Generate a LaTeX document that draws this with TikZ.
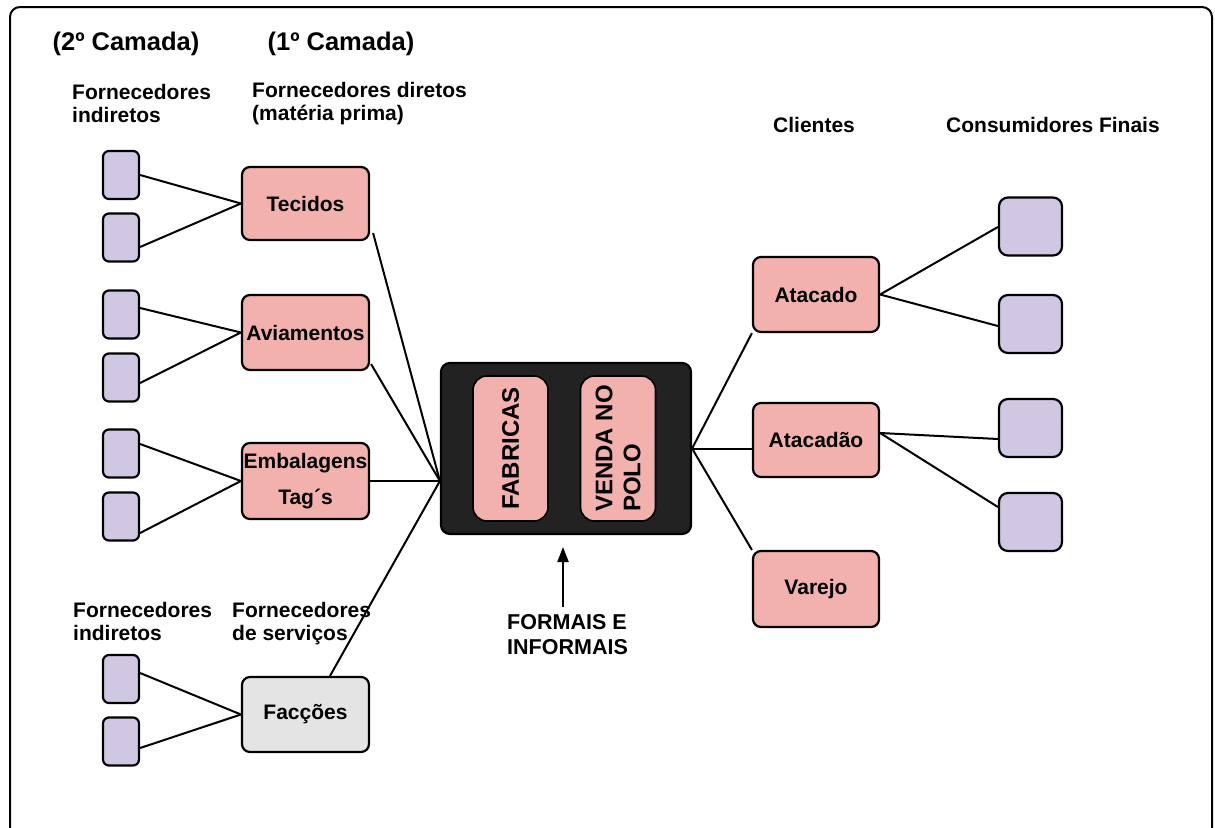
\documentclass[tikz,border=0pt]{standalone}
\usepackage{fontspec}
\setmainfont{Liberation Sans}
\usetikzlibrary{arrows.meta,calc}
\definecolor{pinkfill}{HTML}{F2B1AD}
\definecolor{purpfill}{HTML}{D0C8E2}
\definecolor{grayfill}{HTML}{E4E4E4}
\definecolor{darkfill}{HTML}{222222}
\begin{document}
\begin{tikzpicture}[x=1pt,y=-1pt,
  lbl/.style={font=\fontsize{21}{23.5}\selectfont\bfseries, inner sep=0pt, align=left, anchor=north west},
  hdr/.style={font=\fontsize{25.5}{28}\selectfont\bfseries, inner sep=0pt},
  smallbox/.style={draw, line width=2.2pt, rounded corners=6pt, fill=purpfill, minimum width=36pt, minimum height=48pt, inner sep=0pt},
  bigsmall/.style={smallbox, minimum width=63pt, minimum height=58pt, rounded corners=9pt},
  supbox/.style={draw, line width=2.2pt, rounded corners=8pt, fill=pinkfill, minimum width=127pt, minimum height=75pt, inner sep=0pt, font=\fontsize{21}{24}\selectfont\bfseries, align=center},
  innerbox/.style={draw, line width=1.6pt, rounded corners=14pt, fill=pinkfill, rotate=90, minimum width=145pt, minimum height=75pt, inner sep=0pt, font=\fontsize{24}{28}\selectfont\bfseries, align=left},
  link/.style={line width=2pt},
]
\useasboundingbox (0,0) rectangle (1215,827);
\clip (0,0) rectangle (1215,827);
% outer frame
\draw[line width=2pt, rounded corners=10pt] (10,870) -- (10,7) -- (1212,7) -- (1212,870);

% headers
\node[hdr] (h2) at (126,44) {(2º Camada)};
\node[hdr] (h1) at (341,44) {(1º Camada)};
\node[lbl] (fi1) at (72,84) {Fornecedores\\indiretos};
\node[lbl] (fd) at (252,82) {Fornecedores diretos\\(matéria prima)};
\node[lbl] (cli) at (773,117) {Clientes};
\node[lbl] (cons) at (946,117) {Consumidores Finais};
\node[lbl] (fi2) at (73,602) {Fornecedores\\indiretos};
\node[lbl] (fs) at (232,602) {Fornecedores\\de serviços};

% left small boxes
\node[smallbox] (b1) at (121,175) {};
\node[smallbox] (b2) at (121,237.5) {};
\node[smallbox] (b3) at (121,314.5) {};
\node[smallbox] (b4) at (121,377.5) {};
\node[smallbox] (b5) at (121,453.5) {};
\node[smallbox] (b6) at (121,516.5) {};
\node[smallbox] (b7) at (121,679) {};
\node[smallbox] (b8) at (121,741.5) {};

% direct suppliers
\node[supbox, minimum height=73pt] (tec) at (305.5,203.5) {Tecidos};
\node[supbox] (avi) at (305.5,332.5) {Aviamentos};
\node[supbox, minimum height=76pt] (emb) at (305.5,481) {Embalagens\\[12pt]Tag´s};
\node[supbox, fill=grayfill] (fac) at (305.5,714.5) {Facções};

% central
\node[draw, line width=2.2pt, fill=darkfill, rounded corners=9pt, minimum width=250pt, minimum height=171pt, inner sep=0pt] (cen) at (566,448.5) {};
\node[innerbox] (fab) at (510.5,448.5) {FABRICAS};
\node[innerbox] (ven) at (618,448.5) {VENDA NO\\POLO};

% clients
\node[supbox, minimum width=126pt] (ata) at (816,294.5) {Atacado};
\node[supbox, minimum width=126pt, minimum height=74pt] (atd) at (816,440) {Atacadão};
\node[supbox, minimum width=126pt, minimum height=76pt] (var) at (816,589) {Varejo};

% final consumers
\node[bigsmall] (r1) at (1030.5,226.5) {};
\node[bigsmall] (r2) at (1030.5,324) {};
\node[bigsmall] (r3) at (1030.5,428) {};
\node[bigsmall] (r4) at (1030.5,522) {};

% formal/informal
\node[lbl, font=\fontsize{21.5}{25}\selectfont\bfseries] (fi) at (507,614) {FORMAIS E\\INFORMAIS};
\coordinate (abase) at (563,607);
\coordinate (atip) at (563,547);
\draw[link, -{Triangle[length=15pt,width=11pt]}] (abase) -- (atip);

% connectors left
\draw[link] (b1.east) -- (tec.west);
\draw[link] ([yshift=-9.5pt]b2.east) -- (tec.west);
\draw[link] ([yshift=6.5pt]b3.east) -- (avi.west);
\draw[link] ([yshift=-5.5pt]b4.east) -- (avi.west);
\draw[link] ([yshift=9.5pt]b5.east) -- (emb.west);
\draw[link] ([yshift=-16.5pt]b6.east) -- (emb.west);
\draw[link] ([yshift=6pt]b7.east) -- (fac.west);
\draw[link] ([yshift=-6.5pt]b8.east) -- (fac.west);

\coordinate (cl) at (cen.west |- emb.east);
\draw[link] ([shift={(3,-8)}]tec.south east) -- (cl);
\draw[link] ([shift={(1,-7)}]avi.south east) -- (cl);
\draw[link] (emb.east) -- (cl);
\draw[link] ([xshift=24.5pt]fac.north) -- (cl);

% connectors right
\draw[link] (cen.east) -- (ata.south west);
\draw[link] (cen.east) -- (cen.east -| atd.west);
\draw[link] (cen.east) -- (var.north west);
\draw[link] (ata.east) -- ([yshift=-0.5pt]r1.west);
\draw[link] (ata.east) -- ([yshift=-2pt]r2.west);
\draw[link] ([yshift=7pt]atd.east) -- ([yshift=-11pt]r3.west);
\draw[link] ([yshift=7pt]atd.east) -- ([yshift=15pt]r4.west);
\end{tikzpicture}
\end{document}
